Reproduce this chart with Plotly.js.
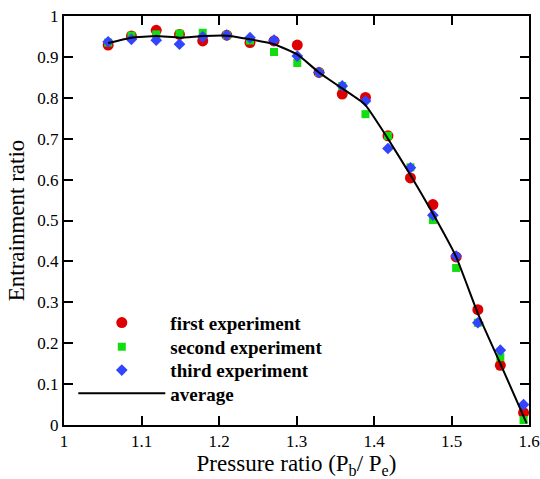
<!DOCTYPE html>
<html>
<head>
<meta charset="utf-8">
<script src="https://cdn.plot.ly/plotly-3.0.1.min.js"></script>
<style>html,body{margin:0;padding:0;background:#fff;}#chart{width:540px;height:479px;}</style>
</head>
<body>
<div id="chart"></div>
<script>
// Pressure ratio values for each experiment
const pressure = [1.057, 1.087, 1.119, 1.149, 1.179, 1.210, 1.240, 1.271, 1.301, 1.329,
                  1.359, 1.389, 1.418, 1.447, 1.476, 1.506, 1.534, 1.563, 1.593];
const firstExp  = [0.929, 0.951, 0.965, 0.955, 0.939, 0.953, 0.935, 0.939, 0.929, 0.862,
                   0.809, 0.801, 0.707, 0.604, 0.539, 0.411, 0.282, 0.146, 0.030];
const secondExp = [0.935, 0.952, 0.955, 0.957, 0.959, 0.953, 0.940, 0.912, 0.885, 0.862,
                   0.829, 0.760, 0.707, 0.630, 0.501, 0.384, 0.250, 0.166, 0.012];
const thirdExp  = [0.937, 0.943, 0.941, 0.931, 0.949, 0.953, 0.947, 0.941, 0.902, 0.862,
                   0.829, 0.792, 0.676, 0.629, 0.513, 0.413, 0.250, 0.183, 0.050];
// Average curve
const avgX = [1.057, 1.087, 1.119, 1.149, 1.179, 1.210, 1.240, 1.271, 1.301, 1.329,
              1.359, 1.383, 1.389, 1.418, 1.447, 1.476, 1.506, 1.534, 1.563, 1.597];
const avgY = [0.934, 0.947, 0.951, 0.947, 0.951, 0.952, 0.943, 0.931, 0.906, 0.862,
              0.823, 0.792, 0.782, 0.700, 0.611, 0.517, 0.411, 0.273, 0.150, 0.004];
const xTicks = [1, 1.1, 1.2, 1.3, 1.4, 1.5, 1.6];
const xTickText = ['1', '1.1', '1.2', '1.3', '1.4', '1.5', '1.6'];
const yTicks = [0, 0.1, 0.2, 0.3, 0.4, 0.5, 0.6, 0.7, 0.8, 0.9, 1];
const yTickText = ['0', '0.1', '0.2', '0.3', '0.4', '0.5', '0.6', '0.7', '0.8', '0.9', '1'];

const serif = '"Liberation Serif", "Times New Roman", serif';

const traces = [
  {x: pressure, y: firstExp, mode: 'markers', name: 'first experiment', legend: 'legend',
   marker: {symbol: 'circle', size: 11, color: '#dd0000'}},
  {x: pressure, y: secondExp, mode: 'markers', name: 'second experiment', legend: 'legend2',
   marker: {symbol: 'square', size: 8, color: '#11dd11'}},
  {x: pressure, y: thirdExp, mode: 'markers', name: 'third experiment', legend: 'legend3',
   marker: {symbol: 'diamond', size: 9, color: '#3344ff'}},
  {x: avgX, y: avgY, mode: 'lines', name: 'average', legend: 'legend4',
   line: {color: '#000000', width: 2, shape: 'spline', smoothing: 0.4}}
];

const axisCommon = {
  showgrid: false, zeroline: false, showline: true, mirror: 'allticks',
  linecolor: '#000', linewidth: 2, ticks: 'inside', ticklen: 9, tickwidth: 2, tickcolor: '#000',
  tickfont: {family: serif, size: 17, color: '#000'}
};

function leg(y) {
  return {
    x: 0.02, y: y, xanchor: 'left', yanchor: 'middle',
    bgcolor: 'rgba(0,0,0,0)', itemwidth: 87,
    font: {family: serif, size: 19, color: '#000', weight: 'bold'}
  };
}

const layout = {
  width: 540, height: 479,
  margin: {l: 64, r: 11, t: 16, b: 54},
  paper_bgcolor: '#fff', plot_bgcolor: '#fff',
  font: {family: serif, color: '#000'},
  showlegend: true,
  legend: leg(0.250),
  legend2: leg(0.191),
  legend3: leg(0.134),
  legend4: leg(0.077),
  xaxis: Object.assign({}, axisCommon, {
    range: [1, 1.6], tickvals: xTicks, ticktext: xTickText,
    title: {text: 'Pressure ratio (P<sub>b</sub>/ P<sub>e</sub>)', font: {family: serif, size: 23, color: '#000'}, standoff: 4}
  }),
  yaxis: Object.assign({}, axisCommon, {
    range: [0, 1], tickvals: yTicks, ticktext: yTickText,
    title: {text: 'Entrainment ratio', font: {family: serif, size: 23, color: '#000'}, standoff: 6}
  })
};

Plotly.newPlot('chart', traces, layout, {displayModeBar: false, staticPlot: true});
</script>
</body>
</html>
